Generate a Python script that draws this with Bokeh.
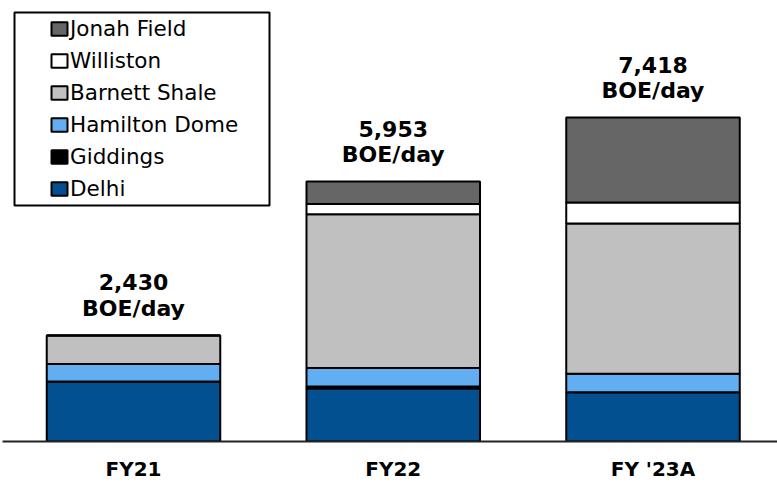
from bokeh.plotting import figure
from bokeh.models import (Range1d, FixedTicker, Legend, LegendItem, BoxAnnotation,
                          ColumnDataSource)
from bokeh.core.properties import value
from bokeh.embed import file_html
from bokeh.resources import INLINE

# ---- data ----
categories = ["FY21", "FY22", "FY '23A"]
delhi = [1373, 1211, 1127]
giddings = [0, 46, 0]
hamilton_dome = [400, 424, 427]
barnett_shale = [657, 3524, 3441]
williston = [0, 232, 480]
jonah_field = [0, 516, 1943]
totals = [2430, 5953, 7418]
unit_label = "BOE/day"
series_names = ["Delhi", "Giddings", "Hamilton Dome", "Barnett Shale", "Williston", "Jonah Field"]
series_values = [delhi, giddings, hamilton_dome, barnett_shale, williston, jonah_field]
colors = ["#02508F", "#000000", "#62AEF2", "#C0C0C0", "#FFFFFF", "#666666"]

FONT = "DejaVu Sans"

xs = list(range(len(categories)))
data = {"x": xs}
for name, vals in zip(series_names, series_values):
    data[name] = vals
source = ColumnDataSource(data)

p = figure(width=777, height=483, output_backend="svg", toolbar_location=None,
           x_range=Range1d(-0.5043, 2.4793), y_range=Range1d(0, 10100),
           min_border_left=2, min_border_right=0, min_border_top=0, min_border_bottom=0)

renderers = p.vbar_stack(series_names, x="x", width=0.668, color=colors,
                         line_color="black", line_width=2, source=source)

label_src = ColumnDataSource(dict(
    x=xs, total=totals,
    num=[f"{t:,}" for t in totals],
    unit=[unit_label] * len(totals),
))
p.text(x="x", y="total", text="num", source=label_src, text_font=value(FONT),
       text_font_style="bold", text_font_size="22px", text_align="center",
       text_baseline="alphabetic", text_color="black", y_offset=-53)
p.text(x="x", y="total", text="unit", source=label_src, text_font=value(FONT),
       text_font_style="bold", text_font_size="22px", text_align="center",
       text_baseline="alphabetic", text_color="black", y_offset=-27)

# axes
p.yaxis.visible = False
p.xaxis.ticker = FixedTicker(ticks=xs)
p.xaxis.major_label_overrides = {i: c for i, c in zip(xs, categories)}
p.xaxis.major_tick_line_color = None
p.xaxis.minor_tick_line_color = None
p.xaxis.major_tick_out = 0
p.xaxis.major_tick_in = 0
p.xaxis.axis_line_color = "#222222"
p.xaxis.axis_line_width = 2
p.xaxis.major_label_text_font = FONT
p.xaxis.major_label_text_font_style = "bold"
p.xaxis.major_label_text_font_size = "20px"
p.xaxis.major_label_text_color = "black"
p.xaxis.major_label_standoff = 15

p.xgrid.visible = False
p.ygrid.visible = False
p.outline_line_color = None

# legend
items = [LegendItem(label=n, renderers=[r]) for n, r in zip(series_names, renderers)][::-1]
legend = Legend(items=items, location=(43, 236), padding=4, spacing=7,
                label_height=25, glyph_width=20, glyph_height=17, label_standoff=1,
                label_text_font=FONT, label_text_font_size="21.5px", label_text_color="black",
                border_line_alpha=0, background_fill_alpha=0)
p.add_layout(legend)

# legend frame (screen units, measured from the frame's bottom-left)
frame_box = BoxAnnotation(left=12, right=267, top=429, bottom=236,
                          left_units="screen", right_units="screen",
                          top_units="screen", bottom_units="screen",
                          fill_alpha=0, line_color="black", line_alpha=1, line_width=2)
p.add_layout(frame_box)

open("out.html", "w").write(file_html(p, INLINE))
